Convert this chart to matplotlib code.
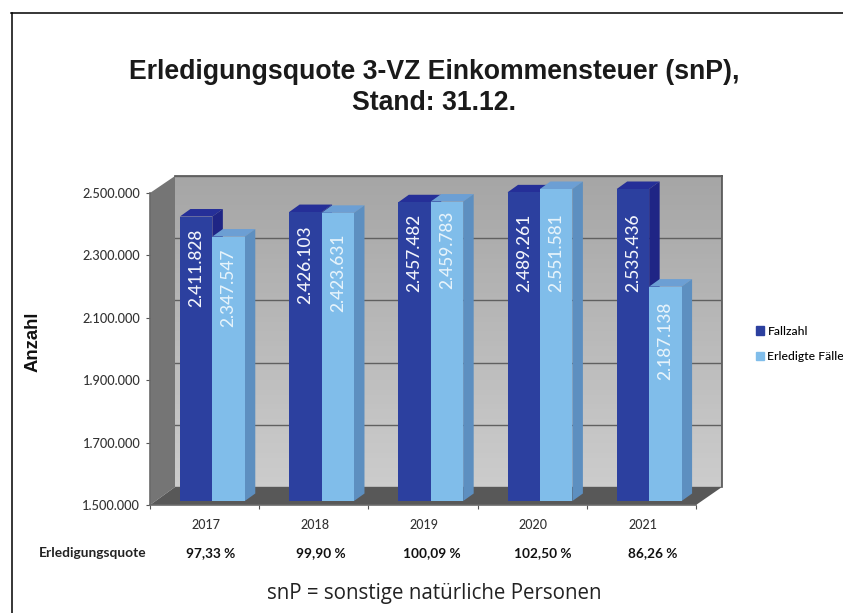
import numpy as np
import matplotlib
matplotlib.use("Agg")
import matplotlib.pyplot as plt
from matplotlib.patches import Polygon, Rectangle
from matplotlib.lines import Line2D
from matplotlib.transforms import blended_transform_factory

years = ["2017", "2018", "2019", "2020", "2021"]
fallzahl = [2411828, 2426103, 2457482, 2489261, 2535436]
erledigt = [2347547, 2423631, 2459783, 2551581, 2187138]
quote = ["97,33 %", "99,90 %", "100,09 %", "102,50 %", "86,26 %"]
yticks = [1500000, 1700000, 1900000, 2100000, 2300000, 2500000]
ytick_labels = ["1.500.000", "1.700.000", "1.900.000", "2.100.000", "2.300.000", "2.500.000"]

W, H = 843, 613
fig = plt.figure(figsize=(W / 100, H / 100), dpi=100, facecolor="white")


def axes_px(x0, x1, ytop, ybot, **kw):
    return fig.add_axes([x0 / W, 1 - ybot / H, (x1 - x0) / W, (ybot - ytop) / H], **kw)


def fx(x):
    return x / W


def fy(y):
    return 1 - y / H


def fpoly(pts, **kw):
    fig.add_artist(Polygon([(fx(a), fy(b)) for a, b in pts], closed=True,
                           transform=fig.transFigure, zorder=-1, **kw))


# frame
fig.add_artist(Line2D([fx(11), 1], [fy(12.5), fy(12.5)], color="black", lw=1.1))
fig.add_artist(Line2D([fx(11.5), fx(11.5)], [fy(12.5), 0], color="black", lw=1.1))

# 3D walls
fpoly([(150, 193), (175, 176), (175, 487), (150, 505)], facecolor="#757575", edgecolor="none")
fpoly([(150, 505), (175, 487), (722, 487), (696, 505)], facecolor="#585858", edgecolor="none")

back = axes_px(175, 722, 176, 487)
back.imshow(np.linspace(0, 1, 64)[:, None], cmap=matplotlib.colors.LinearSegmentedColormap.from_list(
    "w", ["#a6a6a6", "#cccccc"]), extent=(0, 1, 0, 1), transform=back.transAxes, aspect="auto", zorder=0)
back.set_xlim(0, 5)
back.set_ylim(1500000, 2500000)
back.set_xticks([])
back.set_yticks(yticks)
back.tick_params(left=False, labelleft=False)
back.grid(axis="y", color="#606060", lw=1.0)
back.set_axisbelow(False)
for s in ["left", "bottom"]:
    back.spines[s].set_visible(False)
for s in ["top", "right"]:
    back.spines[s].set_color("#505050")
    back.spines[s].set_linewidth(1.2)

# front axis: ticks and labels
ax = axes_px(150, 696, 193, 505)
ax.patch.set_alpha(0)
ax.set_xlim(0, 5)
ax.set_ylim(1500000, 2500000)
ax.set_yticks(yticks)
ax.set_yticklabels(ytick_labels, fontfamily="Lato", fontsize=9.2, color="#333333", fontweight="medium")
ax.set_xticks(range(6))
ax.set_xticklabels([])
ax.set_xticks(np.arange(5) + 0.51, minor=True)
ax.set_xticklabels(years, minor=True, fontfamily="Lato", fontsize=9, color="#333333", fontweight="medium")
ax.tick_params(axis="x", which="minor", length=0, pad=10)
ax.tick_params(axis="x", which="major", length=3, color="#555555")
ax.tick_params(axis="y", length=3, color="#555555", pad=4)
for s in ["top", "right"]:
    ax.spines[s].set_visible(False)
for s in ["left", "bottom"]:
    ax.spines[s].set_color("#6a6a6a")
    ax.spines[s].set_linewidth(1.2)

# bars
bx = axes_px(150, 696, 189, 501)
bx.patch.set_alpha(0)
bx.axis("off")
bx.set_xlim(0, 5)
bx.set_ylim(1500000, 2500000)
width = 0.297
centers = np.arange(5) + 0.571
DX, DY = 10.5, 7.5
label_tr = blended_transform_factory(bx.transData, fig.transFigure)
label_px_dark = [268, 265, 253, 253, 253]
label_px_light = [288, 273, 250, 253, 341]


def bar3d(x0, value, front, top, side, z):
    x1 = x0 + width
    v = min(value, bx.get_ylim()[1])
    bx.bar(x0, v - bx.get_ylim()[0], width, bottom=bx.get_ylim()[0], align="edge",
           color=front, zorder=z + 1, linewidth=0)
    (px0, py0), (px1, py1) = fig.transFigure.inverted().transform(
        bx.transData.transform([(x0, bx.get_ylim()[0]), (x1, v)]))
    dx, dy = DX / W, DY / H
    fig_tr = fig.transFigure
    bx.add_patch(Polygon([(px0, py1), (px0 + dx, py1 + dy), (px1 + dx, py1 + dy), (px1, py1)],
                         transform=fig_tr, facecolor=top, edgecolor="none", zorder=z, clip_on=False))
    bx.add_patch(Polygon([(px1, py1), (px1 + dx, py1 + dy), (px1 + dx, py0 + dy), (px1, py0)],
                         transform=fig_tr, facecolor=side, edgecolor="none", zorder=z, clip_on=False))


for i in range(5):
    z = 2 + i * 10
    bar3d(centers[i] - width, fallzahl[i], "#2c409f", "#252f98", "#1f2585", z)
    bar3d(centers[i], erledigt[i], "#80bdea", "#6c9fd4", "#5d8fc0", z + 3)
    for x, val, ypx, col in ((centers[i] - width / 2, fallzahl[i], label_px_dark[i], "#f2f4fb"),
                             (centers[i] + width / 2, erledigt[i], label_px_light[i], "#e6f3fb")):
        lab = f"{val:,}".replace(",", ".")
        bx.text(x, fy(ypx), lab, transform=label_tr, rotation=90,
                ha="center", va="center", color=col, fontsize=12.4, fontfamily="Lato", fontweight="medium",
                zorder=z + 6, clip_on=False)

# row of rates
fig.text(fx(39), fy(553), "Erledigungsquote", fontfamily="Lato", fontweight="bold", fontsize=9.9,
         color="#222222", ha="left", va="center")
for i, q in enumerate(quote):
    fig.text(fx(210.5 + i * 110.6), fy(553), q, fontfamily="Lato", fontweight="bold",
             fontsize=9.8, color="#111111", ha="center", va="center")

# legend
handles = [Rectangle((0, 0), 1, 1, color="#2c409f"), Rectangle((0, 0), 1, 1, color="#80bdea")]
leg = fig.legend(handles, ["Fallzahl", "Erledigte Fälle"], loc="center left",
                 bbox_to_anchor=(fx(756), fy(344)), frameon=False, handlelength=0.65, handleheight=0.65,
                 handletextpad=0.3, labelspacing=1.2, borderpad=0, borderaxespad=0,
                 prop={"family": "Lato", "size": 8.7, "weight": "medium"})

# texts
fig.text(fx(434), fy(72), "Erledigungsquote 3-VZ Einkommensteuer (snP),", fontfamily="Liberation Sans",
         fontweight="bold", fontsize=19.2, ha="center", va="center", color="#1a1a1a")
fig.text(fx(434), fy(103), "Stand: 31.12.", fontfamily="Liberation Sans",
         fontweight="bold", fontsize=19.2, ha="center", va="center", color="#1a1a1a")
fig.text(fx(33), fy(341.5), "Anzahl", fontfamily="Liberation Sans", fontweight="bold", fontsize=13.3,
         rotation=90, ha="center", va="center", color="#111111")
fig.text(fx(434), fy(593), "snP = sonstige natürliche Personen", fontfamily="Open Sans", fontsize=14.8,
         ha="center", va="center", color="#222222")

fig.savefig("out.png", dpi=100, facecolor="white")
